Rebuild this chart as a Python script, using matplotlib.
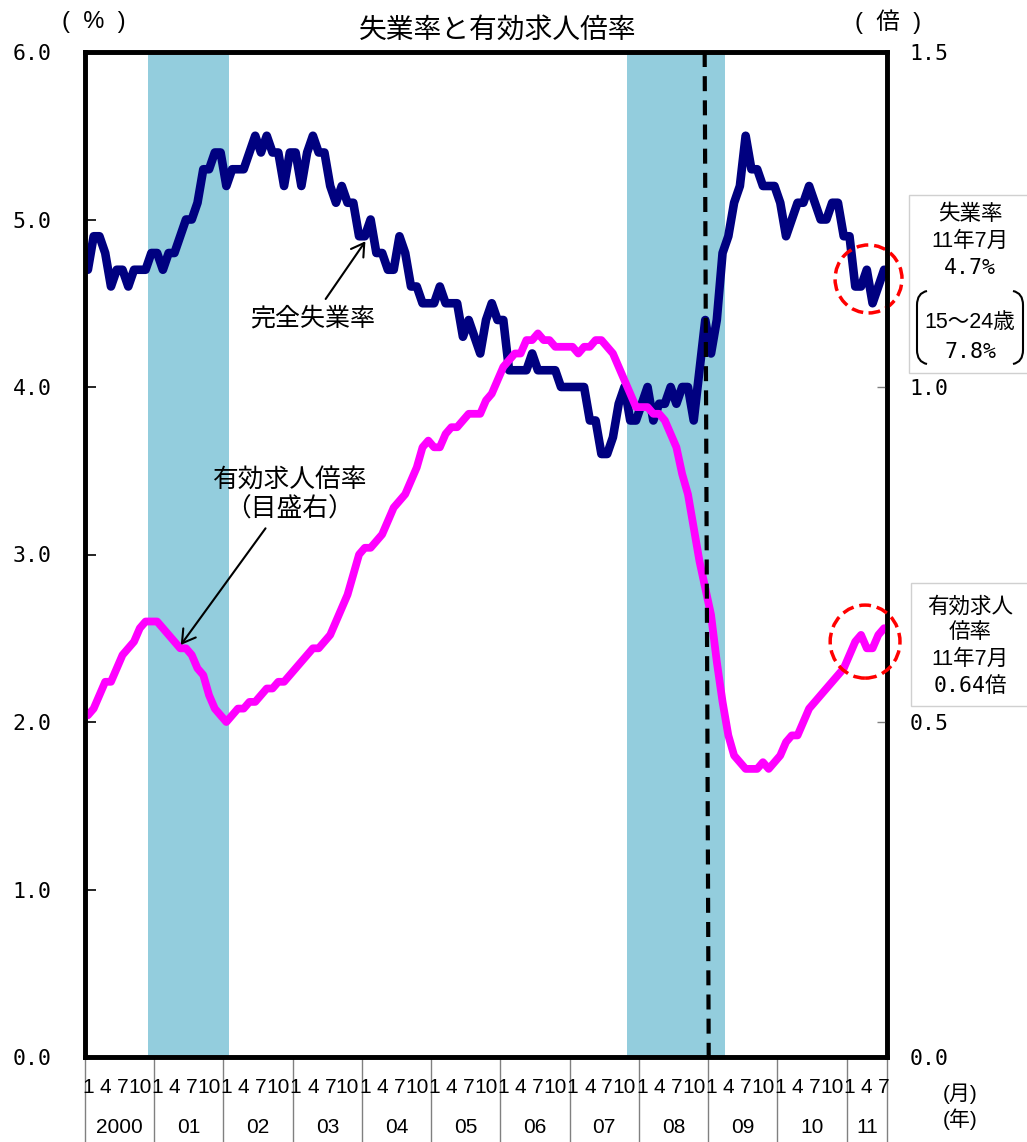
import matplotlib.pyplot as plt
import matplotlib.transforms as mtransforms
import numpy as np
from matplotlib.patches import Ellipse, Rectangle, PathPatch
from matplotlib.path import Path

plt.rcParams['font.family'] = ['Liberation Sans', 'Noto Sans CJK JP']

# monthly series, Jan 2000 - Jul 2011
years = ['2000', '01', '02', '03', '04', '05', '06', '07', '08', '09', '10', '11']
months_in_year = [12] * 11 + [7]
month_marks = [1, 4, 7, 10]

# unemployment rate (%)
unemployment = [
    4.7, 4.9, 4.9, 4.8, 4.6, 4.7, 4.7, 4.6, 4.7, 4.7, 4.7, 4.8,   # 2000
    4.8, 4.7, 4.8, 4.8, 4.9, 5.0, 5.0, 5.1, 5.3, 5.3, 5.4, 5.4,   # 2001
    5.2, 5.3, 5.3, 5.3, 5.4, 5.5, 5.4, 5.5, 5.4, 5.4, 5.2, 5.4,   # 2002
    5.4, 5.2, 5.4, 5.5, 5.4, 5.4, 5.2, 5.1, 5.2, 5.1, 5.1, 4.9,   # 2003
    4.9, 5.0, 4.8, 4.8, 4.7, 4.7, 4.9, 4.8, 4.6, 4.6, 4.5, 4.5,   # 2004
    4.5, 4.6, 4.5, 4.5, 4.5, 4.3, 4.4, 4.3, 4.2, 4.4, 4.5, 4.4,   # 2005
    4.4, 4.1, 4.1, 4.1, 4.1, 4.2, 4.1, 4.1, 4.1, 4.1, 4.0, 4.0,   # 2006
    4.0, 4.0, 4.0, 3.8, 3.8, 3.6, 3.6, 3.7, 3.9, 4.0, 3.8, 3.8,   # 2007
    3.9, 4.0, 3.8, 3.9, 3.9, 4.0, 3.9, 4.0, 4.0, 3.8, 4.1, 4.4,   # 2008
    4.2, 4.4, 4.8, 4.9, 5.1, 5.2, 5.5, 5.3, 5.3, 5.2, 5.2, 5.2,   # 2009
    5.1, 4.9, 5.0, 5.1, 5.1, 5.2, 5.1, 5.0, 5.0, 5.1, 5.1, 4.9,   # 2010
    4.9, 4.6, 4.6, 4.7, 4.5, 4.6, 4.7,                            # 2011
]

# jobs-to-applicants ratio (times)
job_ratio = [
    0.51, 0.52, 0.54, 0.56, 0.56, 0.58, 0.60, 0.61, 0.62, 0.64, 0.65, 0.65,
    0.65, 0.64, 0.63, 0.62, 0.61, 0.61, 0.60, 0.58, 0.57, 0.54, 0.52, 0.51,
    0.50, 0.51, 0.52, 0.52, 0.53, 0.53, 0.54, 0.55, 0.55, 0.56, 0.56, 0.57,
    0.58, 0.59, 0.60, 0.61, 0.61, 0.62, 0.63, 0.65, 0.67, 0.69, 0.72, 0.75,
    0.76, 0.76, 0.77, 0.78, 0.80, 0.82, 0.83, 0.84, 0.86, 0.88, 0.91, 0.92,
    0.91, 0.91, 0.93, 0.94, 0.94, 0.95, 0.96, 0.96, 0.96, 0.98, 0.99, 1.01,
    1.03, 1.04, 1.05, 1.05, 1.07, 1.07, 1.08, 1.07, 1.07, 1.06, 1.06, 1.06,
    1.06, 1.05, 1.06, 1.06, 1.07, 1.07, 1.06, 1.05, 1.03, 1.01, 0.99, 0.97,
    0.97, 0.97, 0.96, 0.96, 0.95, 0.93, 0.91, 0.87, 0.84, 0.79, 0.74, 0.70,
    0.66, 0.59, 0.53, 0.48, 0.45, 0.44, 0.43, 0.43, 0.43, 0.44, 0.43, 0.44,
    0.45, 0.47, 0.48, 0.48, 0.50, 0.52, 0.53, 0.54, 0.55, 0.56, 0.57, 0.58,
    0.60, 0.62, 0.63, 0.61, 0.61, 0.63, 0.64,
]

# recession months (index from Jan 2000)
recession_months = list(range(11, 25)) + list(range(94, 111))
youth_rate = 7.8
lehman_x = (106.9, 107.6)

NAVY = '#000080'
MAGENTA = '#FF00FF'
SHADE = '#93CDDD'
MONO = ['DejaVu Sans Mono', 'Noto Sans CJK JP']

n = len(unemployment)
x = np.arange(n)
month_of = [k % 12 + 1 for k in range(n)]

W, H = 1027, 1142
fig = plt.figure(figsize=(W / 100, H / 100), dpi=100)
ax = fig.add_axes([85 / W, 1 - 1057 / H, (887 - 85) / W, (1057 - 52) / H])
ax2 = ax.twinx()

# shaded recession periods
runs = []
start = prev = recession_months[0]
for m in recession_months[1:]:
    if m != prev + 1:
        runs.append((start, prev))
        start = m
    prev = m
runs.append((start, prev))
for a, b in runs:
    ax.axvspan(a - 0.5, b + 0.5, color=SHADE, lw=0, zorder=0)

ax.plot(x, unemployment, color=NAVY, lw=6.2, solid_joinstyle='round',
        solid_capstyle='round', zorder=2)
ax2.plot(x, job_ratio, color=MAGENTA, lw=5.6, solid_joinstyle='round',
         solid_capstyle='round', zorder=2)
ax2.plot(lehman_x, [1.5, 0], color='black', lw=3, dashes=(3.6, 2.2), zorder=5)

ax.set_xlim(-0.5, n - 0.5)
ax.set_ylim(0, 6)
ax2.set_ylim(0, 1.5)

for a in (ax, ax2):
    for sp in a.spines.values():
        sp.set_linewidth(3.3)
        sp.set_color('black')

ax.set_yticks(np.arange(0, 6.01, 1.0))
ax.set_yticklabels([f'{v:.1f}' for v in np.arange(0, 6.01, 1.0)])
ax.tick_params(axis='y', direction='in', length=8, width=1.2, pad=24,
               labelsize=15.5, right=False)
for lab in ax.get_yticklabels():
    lab.set_fontfamily(MONO)

ax2.set_yticks([0, 0.5, 1.0, 1.5])
ax2.set_yticklabels(['0.0', '0.5', '1.0', '1.5'])
ax2.tick_params(axis='y', direction='in', length=7, width=1, color='#808080',
                pad=16, labelsize=15.5)
for lab in ax2.get_yticklabels():
    lab.set_fontfamily(MONO)

# month ticks and year labels under the plot
xt = [k for k in x if month_of[k] in month_marks]
ax.set_xticks(xt)
ax.set_xticklabels([str(month_of[k]) for k in xt])
ax.tick_params(axis='x', length=0, pad=15, labelsize=15)
for lab in ax.get_xticklabels():
    lab.set_fontfamily(['Liberation Sans Narrow', 'Liberation Sans'])

trans = mtransforms.blended_transform_factory(ax.transData, ax.transAxes)
edges = np.concatenate([[0], np.cumsum(months_in_year)]) - 0.5
for e in edges:
    ax.plot([e, e], [0, -0.09], transform=trans, color='#808080', lw=1,
            clip_on=False, zorder=1)
for yr, a, b in zip(years, edges[:-1], edges[1:]):
    ax.text((a + b) / 2, -0.0697, yr, transform=trans, ha='center',
            va='center', fontsize=15)

# annotations
ax.annotate('完全失業率', xy=(48.1, 4.87), xytext=(38.9, 4.41),
            ha='center', va='center', fontsize=18,
            arrowprops=dict(arrowstyle='->, head_length=0.5, head_width=0.3',
                            lw=1.5, color='black', shrinkA=4, shrinkB=0))
ax2.annotate('有効求人倍率\n（目盛右）', xy=(16.1, 0.615), xytext=(35.0, 0.839),
             ha='center', va='center', fontsize=18.5, multialignment='center',
             arrowprops=dict(arrowstyle='->, head_length=0.5, head_width=0.3',
                             lw=1.5, color='black', shrinkA=4, shrinkB=0))

ax.add_patch(Ellipse((135.3, 4.645), 11.6, 0.406, fill=False, edgecolor='red',
                     lw=2.5, linestyle=(0, (3.4, 1.7)), clip_on=False, zorder=6))
ax2.add_patch(Ellipse((134.7, 0.620), 12.1, 0.109, fill=False, edgecolor='red',
                      lw=2.5, linestyle=(0, (3.4, 1.7)), clip_on=False, zorder=6))

# overlay in pixel units for titles and side boxes
ov = fig.add_axes([0, 0, 1, 1])
ov.set_xlim(0, W)
ov.set_ylim(H, 0)
ov.axis('off')

ov.text(498, 31, '失業率と有効求人倍率', ha='center', va='center', fontsize=20)
ov.text(94, 22, '(  %  )', ha='center', va='center', fontsize=17)
ov.text(888, 22, '(  倍  )', ha='center', va='center', fontsize=17)
ov.text(960, 1094, '(月)', ha='center', va='center', fontsize=15)
ov.text(960, 1119, '(年)', ha='center', va='center', fontsize=15)

ov.add_patch(Rectangle((909, 195), 140, 178, facecolor='white',
                       edgecolor='#D0D0D0', lw=1))
box1 = [('失業率', 215, None), ('11年7月', 241, None),
        (f'{unemployment[-1]:.1f}%', 268, MONO),
        ('15～24歳', 322, None), (f'{youth_rate:.1f}%', 352, MONO)]
for s, yy, fam in box1:
    t = ov.text(970, yy, s, ha='center', va='center', fontsize=15.5)
    if fam:
        t.set_fontfamily(fam)

bracket_codes = [Path.MOVETO, Path.CURVE3, Path.CURVE3, Path.LINETO,
                 Path.CURVE3, Path.CURVE3]
left_br = [(927, 291), (917, 293), (917, 305), (917, 350), (917, 362), (927, 364)]
right_br = [(1013, 291), (1023, 293), (1023, 305), (1023, 350), (1023, 362), (1013, 364)]
for v in (left_br, right_br):
    ov.add_patch(PathPatch(Path(v, bracket_codes), fill=False, lw=1.5,
                           edgecolor='black'))

ov.add_patch(Rectangle((911, 583), 140, 123, facecolor='white',
                       edgecolor='#D0D0D0', lw=1))
box2 = [('有効求人', 607, None), ('倍率', 633, None), ('11年7月', 659, None),
        (f'{job_ratio[-1]:.2f}倍', 686, MONO)]
for s, yy, fam in box2:
    t = ov.text(970, yy, s, ha='center', va='center', fontsize=15.5)
    if fam:
        t.set_fontfamily(fam)

fig.savefig('out.png', dpi=100)
